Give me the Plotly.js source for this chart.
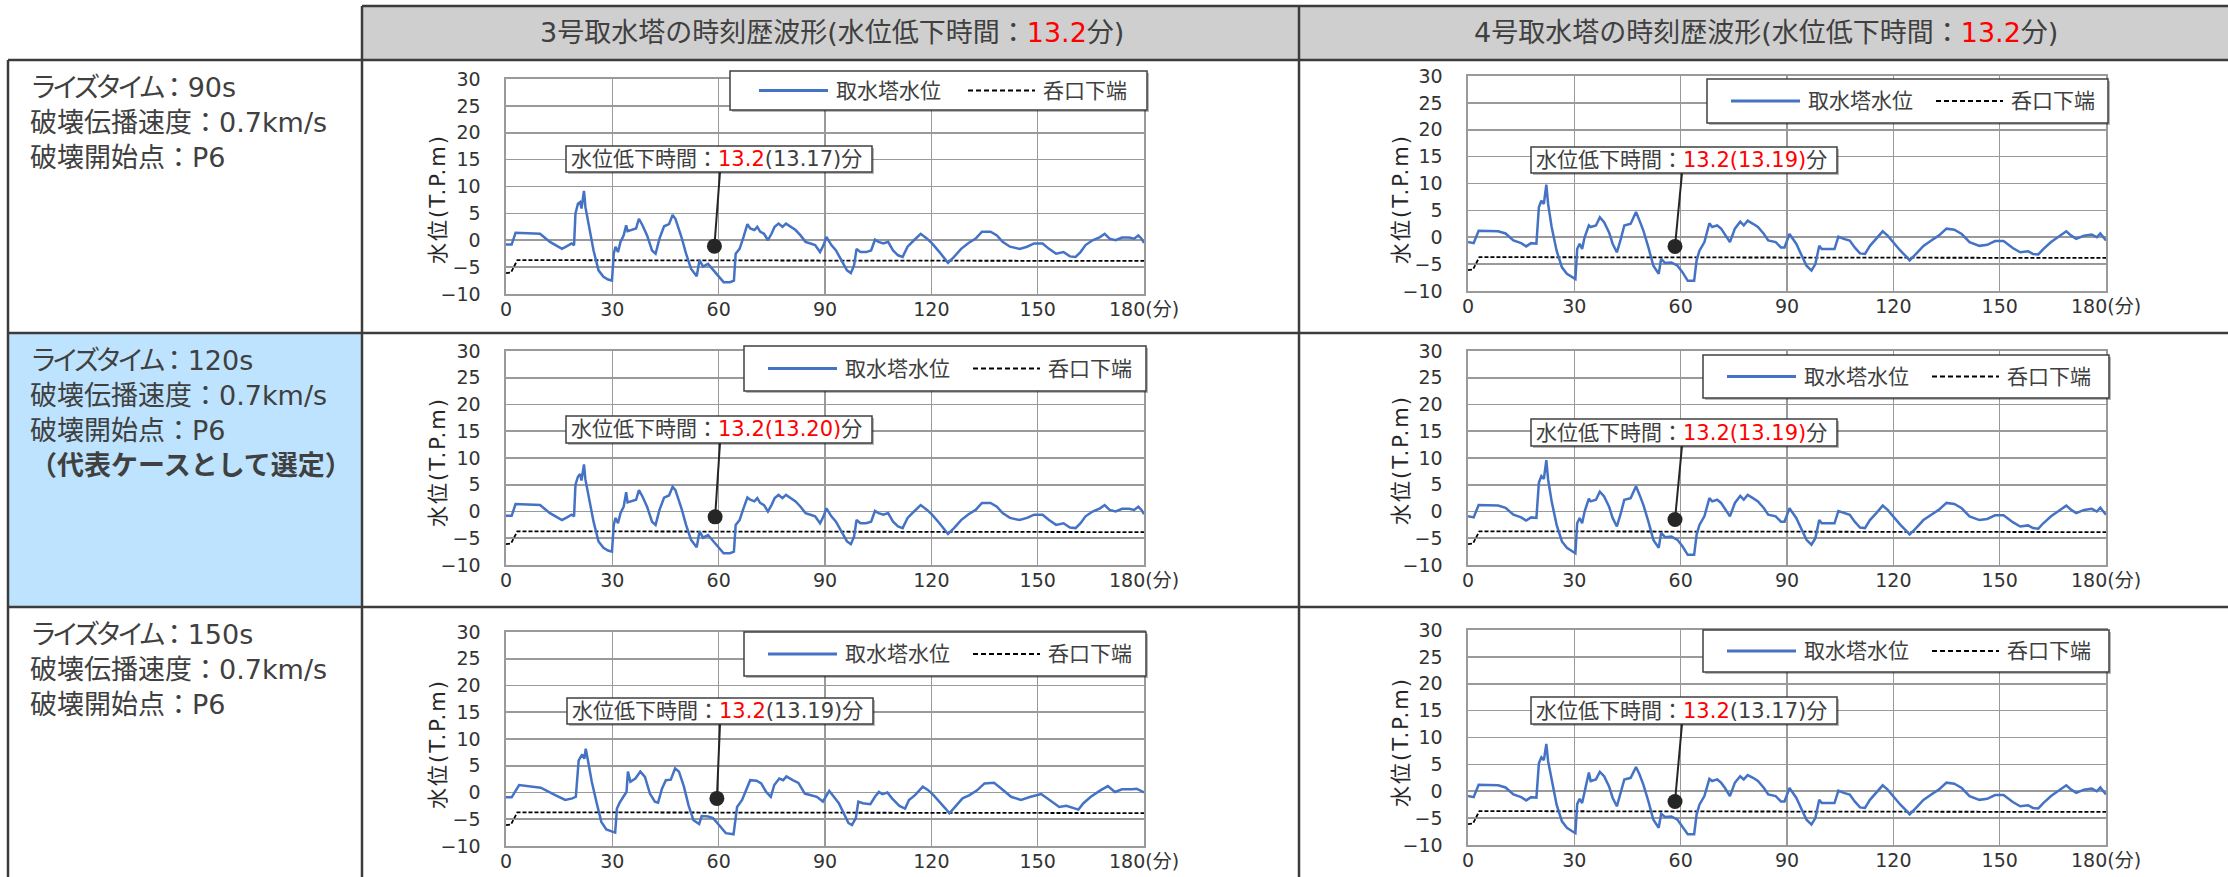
<!DOCTYPE html>
<html><head><meta charset="utf-8">
<script src="https://cdn.plot.ly/plotly-3.0.1.min.js"></script>
<style>html,body{margin:0;padding:0;background:#fff;}#chart{width:2228px;height:877px;}</style>
</head><body><div id="chart"></div>
<script>
// ---------------- data ----------------
const X_TICKS = [0, 30, 60, 90, 120, 150, 180];
const X_TICK_TEXT = ['0', '30', '60', '90', '120', '150', '180(分)'];
const Y_TICKS = [-10, -5, 0, 5, 10, 15, 20, 25, 30];
const Y_TITLE = '水位(T.P.m)';
const SERIES_NAME = '取水塔水位';
const INLET_NAME = '呑口下端';

const HEAD_TEXT = ['3号取水塔の時刻歴波形(水位低下時間：', '4号取水塔の時刻歴波形(水位低下時間：'];
const HEAD_RED = ['13.2', '13.2'];
const HEAD_END = '分)';

const RISE_LABEL = 'ライズタイム';
const RISE_VALUE = ['90s', '120s', '150s'];
const CASE_LINES = ['破壊伝播速度：0.7km/s', '破壊開始点：P6'];
const CASE_NOTE = ['', '（代表ケースとして選定）', ''];

const CALLOUT_LABEL = '水位低下時間：';
const CALLOUT_RED = ['13.2', '13.2(13.19)', '13.2(13.20)', '13.2(13.19)', '13.2', '13.2'];
const CALLOUT_REST = ['(13.17)分', '分', '分', '分', '(13.19)分', '(13.17)分'];
const DOT_T = [58.8, 58.4, 59.0, 58.4, 59.5, 58.4];
const DOT_V = [-1.1, -1.7, -1.0, -1.5, -1.1, -1.9];

// 呑口下端 (inlet bottom)
const INLET_T = [0, 1.4, 3.2, 180];
const INLET_V = [-6.1, -6.0, -3.7, -3.85];

// 3号 (rise 90s / 120s)
const T_A = [0,1.6,2.7,9.6,12.4,15.8,17.2,18.5,19.2,19.6,20.3,20.9,21.3,22.0,22.4,23.4,24.7,26.1,27.5,28.8,29.9,30.4,30.9,31.6,32.3,33.2,33.9,34.3,35.4,36.7,37.5,38.5,39.8,41.2,42.2,43.3,44.6,46.0,47.0,47.8,49.5,50.8,52.2,53.8,54.6,55.6,57.0,58.4,59.8,61.4,63.2,64.3,64.8,65.9,67.0,68.1,68.9,70.1,70.9,71.7,72.8,73.9,74.9,75.8,76.9,78.0,79.0,80.4,81.7,83.1,84.5,85.9,87.2,88.6,89.6,90.4,91.8,93.1,94.8,96.2,97.3,98.2,98.9,100.0,101.6,103.0,104.1,105.1,106.5,107.8,109.2,110.6,111.9,113.3,115.1,117.0,118.8,120.2,122.3,123.6,124.7,126.4,128.4,130.5,132.5,134.3,136.7,138.5,140.1,142.2,144.9,147.0,149.0,151.4,153.2,155.2,157.3,159.1,160.7,162.1,163.5,165.5,167.6,168.9,170.3,172.0,173.8,175.8,177.2,178.4,179.3,180];
const W_3_90 = [-0.8,-0.8,1.4,1.2,-0.3,-1.6,-1.1,-0.6,-0.9,5.0,6.8,7.1,5.9,9.2,6.2,2.5,-1.9,-5.6,-6.8,-7.3,-7.5,-2.5,-1.2,-2.2,-0.3,0.9,2.8,1.7,1.9,2.2,4.0,2.8,0.9,-1.9,-2.5,0.3,2.6,3.0,4.7,4.0,0.6,-2.5,-5.3,-6.7,-3.7,-4.9,-4.4,-5.5,-6.5,-7.8,-7.8,-7.5,-2.5,-1.6,0.6,3.0,2.2,1.9,2.5,1.6,1.2,0,1.2,2.5,3.1,2.5,3.1,2.5,1.9,0.9,-0.3,-0.6,-0.9,-2.2,-0.9,0.6,-0.9,-1.9,-4.0,-5.6,-6.1,-4.7,-1.6,-2.2,-2.2,-1.9,0.1,-0.3,-0.6,-0.3,-1.9,-2.8,-3.1,-1.2,0,1.2,0.3,-0.6,-2.2,-3.4,-4.2,-3.1,-1.6,-0.5,0.3,1.6,1.6,0.9,-0.3,-1.2,-1.6,-1.2,-0.6,-0.6,-1.6,-2.5,-2.2,-3.0,-3.1,-2.2,-0.9,0,0.6,1.2,0.3,0,0.5,0.5,0.3,0.9,0.3,-0.5];
const W_3_120 = [-0.8,-0.8,1.4,1.2,-0.3,-1.6,-1.1,-0.6,-0.9,5.0,6.5,7.0,5.8,8.8,6.0,2.5,-1.9,-5.6,-6.8,-7.3,-7.5,-2.5,-1.2,-2.2,-0.3,0.9,3.6,1.7,1.9,2.2,4.0,2.8,0.9,-1.9,-2.5,0.3,2.6,3.0,4.6,4.0,0.6,-2.5,-5.3,-6.7,-3.7,-4.9,-4.4,-5.5,-6.5,-7.8,-7.8,-7.5,-2.5,-1.6,0.6,2.6,2.2,1.9,2.5,1.6,1.2,0,1.2,2.5,3.1,2.5,3.1,2.5,1.9,0.9,-0.3,-0.6,-0.9,-2.2,-0.9,0.6,-0.9,-1.9,-4.0,-5.6,-6.1,-4.7,-1.6,-2.2,-2.2,-1.9,0.1,-0.3,-0.6,-0.3,-1.9,-2.8,-3.1,-1.2,0,1.2,0.3,-0.6,-2.2,-3.4,-4.2,-3.1,-1.6,-0.5,0.3,1.6,1.6,0.9,-0.3,-1.2,-1.6,-1.2,-0.6,-0.6,-1.6,-2.5,-2.2,-3.0,-3.1,-2.2,-0.9,0,0.6,1.2,0.3,0,0.5,0.5,0.3,0.9,0.3,-0.5];

// 3号 (rise 150s)
const T_B = [0,1.6,3.7,9.8,13.9,16.7,18.7,19.7,20.5,21.5,22.1,22.5,23.2,24.2,25.6,26.9,28.3,29.7,30.8,31.3,32.0,33.1,34.0,34.4,35.1,36.5,37.9,39.2,40.6,42.0,42.9,44.0,45.1,46.5,47.7,48.8,50.2,51.5,52.9,54.5,55.2,57.0,58.4,60.4,62.0,64.2,65.2,66.6,67.9,68.9,70.7,72.0,73.4,74.7,75.7,77.1,78.2,79.1,80.9,82.5,84.3,86.4,87.7,89.4,91.2,92.5,93.9,95.3,96.6,97.6,98.7,99.4,100.7,102.8,104.1,105.2,106.2,107.6,108.9,111.0,112.6,113.7,115.4,117.6,119.2,120.6,122.6,124.0,125.1,126.7,128.8,130.8,132.9,135.0,137.7,139.8,142.5,145.3,148.0,151.0,153.3,156.1,158.1,160.2,161.5,162.9,165.0,167.7,169.8,171.8,173.8,176.6,177.9,180];
const W_3_150 = [-0.9,-0.9,1.4,0.9,-0.5,-1.4,-1.1,-0.8,6.0,7.1,6.3,8.2,5.7,2.0,-2.0,-5.5,-6.9,-7.3,-7.5,-3.0,-2.0,-0.8,0.1,3.9,2.0,2.6,3.9,2.9,-0.2,-1.7,-1.9,0.7,2.3,2.4,4.5,3.9,1.1,-2.4,-5.2,-5.9,-4.4,-4.5,-4.8,-6.3,-7.6,-7.8,-2.7,-1.4,0.7,2.3,2.2,1.7,0.1,-0.8,1.4,2.6,2.3,3.0,2.3,1.8,-0.2,-0.5,-0.8,-1.7,0.3,-0.8,-2.0,-3.9,-5.7,-6.1,-4.8,-1.7,-2.0,-2.2,-0.8,0.1,-0.3,0,-1.1,-2.5,-3.0,-1.4,-0.5,1.1,0.4,-0.5,-1.9,-3.0,-3.9,-2.7,-1.1,-0.5,0.4,1.7,1.8,0.7,-0.8,-1.4,-0.8,-0.3,-1.4,-2.7,-2.5,-3.0,-3.2,-2.0,-0.8,0.4,1.2,0.1,0.6,0.6,0.7,0];

// 4号
const T_C = [0,1.6,3.0,8.5,10.6,12.8,15.0,16.4,17.8,19.3,20.0,20.7,21.4,22.1,22.6,23.6,25.0,26.5,27.9,29.3,30.3,30.8,31.5,32.2,32.9,34.1,34.6,36.1,37.2,38.4,39.8,40.8,42.0,43.0,44.1,45.9,47.4,48.4,49.5,50.9,52.3,53.8,54.5,55.6,57.4,59.1,60.5,62.0,63.8,64.5,65.3,66.7,68.1,68.9,70.3,71.4,72.5,73.9,75.3,76.8,77.8,78.9,80.4,81.8,83.5,84.7,86.8,88.3,89.3,90.7,92.6,94.0,95.5,96.9,98.0,99.1,99.8,101.9,103.4,104.5,106.0,107.7,109.1,110.6,112.0,113.4,115.2,117.0,118.4,119.9,122.0,123.8,124.6,126.4,128.5,130.7,132.8,135.0,137.2,139.3,141.5,144.3,146.5,148.7,151.1,153.7,155.8,158.0,159.4,160.9,162.3,164.5,166.6,168.8,170.2,171.6,173.8,176.0,177.4,178.4,180];
const W_4_90 = [-0.9,-1.1,1.2,1.1,0.7,-0.6,-1.1,-1.7,-1.1,-1.2,5.6,6.8,6.2,9.8,6.2,1.9,-2.5,-5.6,-6.8,-7.4,-7.8,-2.2,-1.2,-2.2,0,2.2,1.9,2.2,3.7,2.8,0.9,-1.2,-2.8,-0.6,2.2,2.5,4.7,3.1,1.2,-1.9,-5.3,-6.8,-4.0,-4.8,-4.7,-5.3,-6.5,-8.1,-8.1,-4.3,-2.5,-0.9,2.6,1.9,2.2,1.6,0.6,-0.9,1.6,2.9,2.2,3.1,2.5,1.9,0.6,-0.6,-0.9,-1.9,-1.9,0.6,-1.2,-3.1,-5.3,-6.2,-5.0,-1.6,-2.2,-2.2,-2.2,0.1,-0.3,-0.6,-1.9,-3.0,-3.1,-1.6,-0.3,1.1,0.3,-0.9,-2.5,-3.7,-4.3,-3.1,-1.6,-0.6,0.3,1.6,1.4,0.6,-0.9,-1.6,-1.4,-0.7,-0.7,-2.0,-2.8,-2.6,-3.1,-3.2,-2.2,-0.9,0,1.1,0.3,-0.3,0.3,0.5,0,0.7,-0.6];
const W_4_120 = [-0.9,-1.1,1.2,1.1,0.7,-0.6,-1.1,-1.7,-1.1,-1.2,5.4,6.6,6.1,9.6,6.0,1.9,-2.5,-5.6,-6.8,-7.4,-7.8,-2.2,-1.2,-2.2,0,2.4,1.9,2.2,3.7,2.8,0.9,-1.2,-2.8,-0.6,2.2,2.5,4.7,3.1,1.2,-1.9,-5.3,-6.8,-4.0,-4.8,-4.7,-5.3,-6.5,-8.1,-8.1,-4.3,-2.5,-0.9,2.5,1.9,2.2,1.6,0.6,-0.9,1.6,2.9,2.2,3.1,2.5,1.9,0.6,-0.6,-0.9,-1.9,-1.9,0.6,-1.2,-3.1,-5.3,-6.2,-5.0,-1.6,-2.2,-2.2,-2.2,0.1,-0.3,-0.6,-1.9,-3.0,-3.1,-1.6,-0.3,1.1,0.3,-0.9,-2.5,-3.7,-4.3,-3.1,-1.6,-0.6,0.3,1.6,1.4,0.6,-0.9,-1.6,-1.4,-0.7,-0.7,-2.0,-2.8,-2.6,-3.1,-3.2,-2.2,-0.9,0,1.1,0.3,-0.3,0.3,0.5,0,0.7,-0.6];
const W_4_150 = [-0.9,-1.1,1.2,1.1,0.7,-0.6,-1.1,-1.7,-1.1,-1.2,5.2,6.3,5.8,8.8,5.6,1.9,-2.5,-5.6,-6.8,-7.4,-7.8,-2.4,-1.4,-2.2,0,3.5,1.9,2.2,3.6,2.8,0.9,-1.2,-2.8,-0.6,2.2,2.5,4.5,3.1,1.2,-1.9,-5.3,-6.8,-4.2,-4.8,-4.7,-5.3,-6.5,-8.0,-8.0,-4.3,-2.5,-0.9,2.3,1.9,2.2,1.6,0.6,-0.9,1.6,2.8,2.2,3.0,2.5,1.9,0.6,-0.6,-0.9,-1.9,-1.9,0.6,-1.2,-3.1,-5.3,-6.2,-5.0,-1.6,-2.2,-2.2,-2.2,0.1,-0.3,-0.6,-1.9,-3.0,-3.1,-1.6,-0.3,1.1,0.3,-0.9,-2.5,-3.7,-4.3,-3.1,-1.6,-0.6,0.3,1.6,1.4,0.6,-0.9,-1.6,-1.4,-0.7,-0.7,-2.0,-2.8,-2.6,-3.1,-3.2,-2.2,-0.9,0,1.1,0.3,-0.3,0.3,0.5,0,0.7,-0.6];

const SERIES_T = [T_A, T_C, T_A, T_C, T_B, T_C];
const SERIES_V = [W_3_90, W_4_90, W_3_120, W_4_120, W_3_150, W_4_150];

// ---------------- layout geometry (pixels) ----------------
const W = 2228, H = 877;
const PX = x => x / W;
const PY = y => 1 - y / H;
const FONT = '"DejaVu Sans", "Noto Sans CJK JP", sans-serif';
const TXT = '#404040';
const LINE_C = '#3c3c3c';
const BLUE = '#4472C4';
const GRID = '#9a9a9a';

const GEO = [
  {L:506, R:1144, T:79,  B:294, leg:[730,1147,71,110],  s1:5, s2:9, box:[566,872,146,172], lx:720,  ty:[438,199]},
  {L:1468,R:2106, T:76,  B:291, leg:[1707,2108,79,123], s1:0, s2:0, box:[1531,1837,147,173], lx:1682, ty:[1401,199]},
  {L:506, R:1144, T:351, B:565, leg:[744,1146,346,391], s1:0, s2:0, box:[566,872,416,443], lx:720,  ty:[438,462]},
  {L:1468,R:2106, T:351, B:565, leg:[1703,2109,355,398], s1:0, s2:0, box:[1531,1837,419,446], lx:1682, ty:[1401,460]},
  {L:506, R:1144, T:632, B:846, leg:[744,1146,632,676], s1:0, s2:0, box:[567,873,698,724], lx:720,  ty:[438,744]},
  {L:1468,R:2106, T:630, B:845, leg:[1703,2109,630,672], s1:0, s2:0, box:[1531,1837,697,724], lx:1682, ty:[1401,742]}
];

const traces = [];
const shapes = [];
const annotations = [];
const layout = {
  width: W, height: H,
  margin: {l:0, r:0, t:0, b:0},
  paper_bgcolor: '#ffffff',
  plot_bgcolor: 'rgba(0,0,0,0)',
  showlegend: false,
  hovermode: false,
  font: {family: FONT, color: TXT}
};

function pline(x0, y0, x1, y1, color, width, dash) {
  shapes.push({type:'line', xref:'paper', yref:'paper', x0:PX(x0), y0:PY(y0), x1:PX(x1), y1:PY(y1),
    line:{color:color, width:width, dash: dash || 'solid'}, layer:'above'});
}
function prect(x0, y0, x1, y1, fill, lineColor, lineWidth, layer) {
  shapes.push({type:'rect', xref:'paper', yref:'paper', x0:PX(x0), y0:PY(y0), x1:PX(x1), y1:PY(y1),
    fillcolor: fill, line:{color: lineColor || 'rgba(0,0,0,0)', width: lineWidth || 0}, layer: layer || 'above'});
}

// ---- table ----
prect(362, 6, 2228, 60, '#cfcfcf', null, 0, 'below');
prect(8, 333, 362, 607, '#bee3fe', null, 0, 'below');
pline(362, 6, 2228, 6, LINE_C, 2.5);
pline(8, 60, 2228, 60, LINE_C, 2.5);
pline(8, 333, 2228, 333, LINE_C, 2.5);
pline(8, 607, 2228, 607, LINE_C, 2.5);
pline(8, 60, 8, 877, LINE_C, 2.5);
pline(362, 6, 362, 877, LINE_C, 2.5);
pline(1299, 6, 1299, 877, LINE_C, 2.5);

// header text
const HEAD_CX = [832, 1766];
for (let c = 0; c < 2; c++) {
  annotations.push({xref:'paper', yref:'paper', x:PX(HEAD_CX[c]), y:PY(32), xanchor:'center', yanchor:'middle',
    showarrow:false, font:{family:FONT, size:27, color:TXT},
    text: HEAD_TEXT[c] + '<span style="color:#ff0000">' + HEAD_RED[c] + '</span>' + HEAD_END});
}
// case text (one block per cell)
const ROW_TOP = [60, 333, 607];
for (let r = 0; r < 3; r++) {
  const lines = ['<span style="letter-spacing:-5px">' + RISE_LABEL + '</span>：' + RISE_VALUE[r]].concat(CASE_LINES);
  if (CASE_NOTE[r]) lines.push('<b>' + CASE_NOTE[r] + '</b>');
  annotations.push({xref:'paper', yref:'paper', x:PX(28), y:PY(ROW_TOP[r] + 10), xanchor:'left', yanchor:'top',
    align:'left', showarrow:false, font:{family:FONT, size:27, color:TXT}, text: lines.join('<br>')});
}

// ---- charts ----
GEO.forEach((g, i) => {
  const n = i + 1;
  const xa = n === 1 ? 'x' : 'x' + n;
  const ya = n === 1 ? 'y' : 'y' + n;
  const xk = n === 1 ? 'xaxis' : 'xaxis' + n;
  const yk = n === 1 ? 'yaxis' : 'yaxis' + n;
  layout[xk] = {
    domain:[PX(g.L), PX(g.R)], anchor: ya, range:[0, 180], fixedrange:true,
    tickmode:'array', tickvals: X_TICKS, ticktext: X_TICK_TEXT,
    showgrid:true, gridcolor: GRID, gridwidth:1.6, zeroline:false,
    showline:true, linecolor: GRID, linewidth:1.6, mirror:true,
    ticks:'', ticklabelstandoff: -2,
    tickfont:{family:FONT, size:19, color:'#333333'}
  };
  layout[yk] = {
    domain:[PY(g.B), PY(g.T)], anchor: xa, range:[-10, 30], fixedrange:true,
    tickmode:'array', tickvals: Y_TICKS,
    showgrid:true, gridcolor: GRID, gridwidth:1.6, zeroline:false,
    showline:true, linecolor: GRID, linewidth:1.6, mirror:true,
    ticks:'', ticklabelstandoff: 20,
    tickfont:{family:FONT, size:19, color:'#333333'}
  };

  traces.push({type:'scatter', mode:'lines', name: INLET_NAME, x: INLET_T, y: INLET_V, xaxis: xa, yaxis: ya,
    line:{color:'#000000', width:1.8, dash:'4px,2px'}});
  traces.push({type:'scatter', mode:'lines', name: SERIES_NAME, x: SERIES_T[i], y: SERIES_V[i], xaxis: xa, yaxis: ya,
    line:{color: BLUE, width:2.5}});

  const toT = px => (px - g.L) / (g.R - g.L) * 180;
  const toV = py => 30 - (py - g.T) / (g.B - g.T) * 40;

  // callout line (box bottom -> dot)
  shapes.push({type:'line', xref: xa, yref: ya, x0: toT(g.lx), y0: toV(g.box[3]), x1: DOT_T[i], y1: DOT_V[i],
    line:{color:'#262626', width:2}, layer:'above'});
  traces.push({type:'scatter', mode:'markers', x:[DOT_T[i]], y:[DOT_V[i]], xaxis: xa, yaxis: ya,
    marker:{size:15, color:'#262626'}, cliponaxis:false});

  // callout box
  const b = g.box;
  prect(b[0] + 2, b[2] + 2, b[1] + 2, b[3] + 2, 'rgba(0,0,0,0.28)');
  prect(b[0], b[2], b[1], b[3], '#ffffff', '#404040', 1.5);
  annotations.push({xref:'paper', yref:'paper', x:PX(b[0] + 3), y:PY((b[2] + b[3]) / 2), xanchor:'left', yanchor:'middle',
    showarrow:false, font:{family:FONT, size:21, color:TXT},
    text: CALLOUT_LABEL + '<span style="color:#ff0000">' + CALLOUT_RED[i] + '</span>' + CALLOUT_REST[i]});

  // legend box
  const lg = g.leg;
  const cy = (lg[2] + lg[3]) / 2;
  prect(lg[0] + 2, lg[2] + 2, lg[1] + 2, lg[3] + 2, 'rgba(0,0,0,0.28)');
  prect(lg[0], lg[2], lg[1], lg[3], '#ffffff', '#404040', 1.5);
  pline(lg[0] + 24 + g.s1, cy, lg[0] + 93 + g.s1, cy, BLUE, 3);
  pline(lg[0] + 229 + g.s2, cy, lg[0] + 296 + g.s2, cy, '#000000', 1.8, '5px,3px');
  annotations.push({xref:'paper', yref:'paper', x:PX(lg[0] + 99 + g.s1), y:PY(cy), xanchor:'left', yanchor:'middle',
    showarrow:false, font:{family:FONT, size:21, color:TXT}, text: SERIES_NAME});
  annotations.push({xref:'paper', yref:'paper', x:PX(lg[0] + 302 + g.s2), y:PY(cy), xanchor:'left', yanchor:'middle',
    showarrow:false, font:{family:FONT, size:21, color:TXT}, text: INLET_NAME});

  // y-axis title
  annotations.push({xref:'paper', yref:'paper', x:PX(g.ty[0]), y:PY(g.ty[1]), xanchor:'center', yanchor:'middle',
    textangle:-90, showarrow:false, font:{family:FONT, size:21, color:'#262626'},
    text: '<span style="letter-spacing:2px">' + Y_TITLE + '</span>'});
});

layout.shapes = shapes;
layout.annotations = annotations;
Plotly.newPlot('chart', traces, layout, {staticPlot:true, displayModeBar:false});
</script>
</body></html>
